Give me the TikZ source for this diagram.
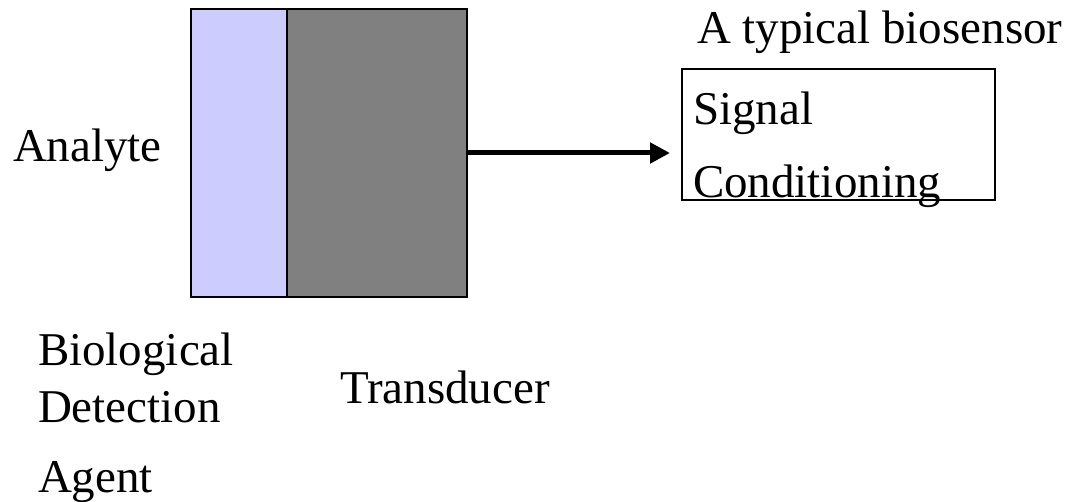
\documentclass[tikz,border=0pt]{standalone}
\usepackage{fontspec}
\setmainfont{Liberation Serif}
\usetikzlibrary{arrows.meta}
\tikzset{
  blk/.style={draw=black, line width=2pt, inner sep=0pt, outer sep=0pt},
  lbl/.style={anchor=base west, inner sep=0pt, outer sep=0pt, font=\fontsize{47}{56}\selectfont},
  conn/.style={line width=5pt, -{Triangle[length=20pt,width=20pt]}}
}
\definecolor{biofill}{HTML}{CCCCFF}
\definecolor{transfill}{HTML}{808080}
\begin{document}
\begin{tikzpicture}[x=1pt,y=-1pt]
\useasboundingbox (0,0) rectangle (1071,502);
\node[blk, fill=biofill, minimum width=96pt, minimum height=288pt] (bio) at (239,153) {};
\node[blk, fill=transfill, minimum width=180pt, minimum height=288pt] (trans) at (377,153) {};
\node[blk, fill=white, minimum width=313pt, minimum height=131pt] (sig) at (838.5,134.5) {};
\coordinate (tip) at (670,153);
\draw[conn] (trans.east) -- (tip);
\node[lbl] (title) at (697,44) {A typical biosensor};
\node[lbl] (signal) at (693,125) {Signal};
\node[lbl] (cond) at (693,198) {Conditioning};
\node[lbl] (analyte) at (13,162) {Analyte};
\node[lbl] (biol) at (38,366) {Biological};
\node[lbl] (detect) at (38,423) {Detection};
\node[lbl] (agent) at (38,492) {Agent};
\node[lbl] (transl) at (340,403) {Transducer};
\end{tikzpicture}
\end{document}
